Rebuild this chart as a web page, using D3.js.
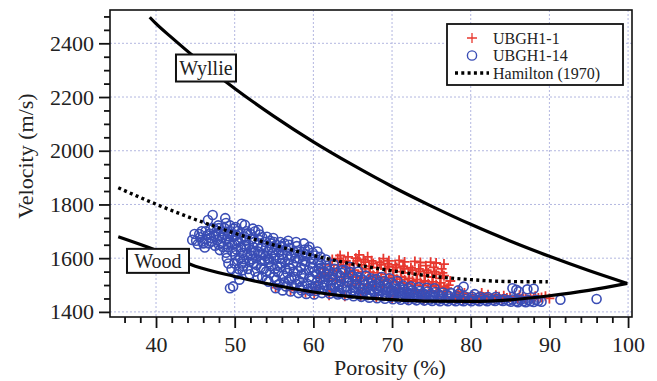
<!DOCTYPE html>
<html>
<head>
<meta charset="utf-8">
<script src="https://cdn.jsdelivr.net/npm/d3@7"></script>
<style>
  body { margin: 0; background: #fff; }
  svg { display: block; }
  svg text { font-family: "Liberation Serif", Tinos, "Times New Roman", Times, "Nimbus Roman", "DejaVu Serif", serif; }
</style>
</head>
<body>
<div id="chart"></div>
<script>
// axis ticks
const xMajor = [40, 50, 60, 70, 80, 90, 100];
const yMajor = [1400, 1600, 1800, 2000, 2200, 2400];

// model curves, [porosity %, velocity m/s]
const wyllie = [[39.2, 2497], [40, 2473], [42, 2421], [45, 2346], [50, 2232], [55, 2128], [60, 2033],
  [65, 1947], [70, 1867], [75, 1794], [80, 1726], [85, 1664], [90, 1607], [95, 1554], [99.9, 1506]];
const wood = [[35.2, 1680], [40, 1630], [45, 1570], [50, 1532], [55, 1500], [60, 1474], [65, 1456],
  [70, 1446], [75, 1440], [80, 1439], [85, 1445], [90, 1460], [95, 1480], [99.9, 1506]];
const hamilton = [[35.2, 1862], [40, 1801], [45, 1744], [50, 1693], [55, 1649], [60, 1610], [65, 1578],
  [70, 1553], [75, 1533], [80, 1520], [85, 1513], [89.8, 1512]];

// UBGH1-1 (red crosses)
const ubgh1_1 = [
  [60.8,1530],[61.2,1560],[61.9,1540],[62.2,1575],[62.4,1595],[62.8,1520],[63.0,1550],[63.2,1575],[63.1,1598],[63.4,1610],
  [63.8,1510],[64.0,1540],[64.2,1565],[64.1,1590],[64.4,1605],[64.8,1500],[65.0,1530],[65.2,1555],[65.1,1580],[65.4,1600],
  [65.8,1505],[66.0,1528],[66.2,1550],[66.1,1575],[66.4,1595],[66.8,1500],[67.0,1525],[67.2,1548],[67.1,1570],[67.4,1590],
  [67.8,1495],[68.0,1520],[68.2,1545],[68.1,1565],[68.4,1585],[68.8,1492],[69.0,1515],[69.2,1540],[69.1,1560],[69.4,1580],
  [69.8,1490],[70.0,1512],[70.2,1535],[70.1,1555],[70.4,1575],[70.8,1488],[71.0,1510],[71.2,1530],[71.1,1550],[71.4,1570],
  [71.8,1485],[72.0,1505],[72.2,1525],[72.1,1545],[72.4,1565],[72.8,1482],[73.0,1500],[73.2,1520],[73.1,1540],[73.4,1560],
  [73.8,1480],[74.0,1498],[74.2,1515],[74.1,1535],[74.4,1555],[74.3,1572],[74.8,1478],[75.0,1495],[75.2,1512],[75.1,1530],
  [75.4,1550],[75.3,1566],[75.8,1476],[76.0,1490],[76.2,1508],[76.1,1525],[76.4,1545],[76.3,1560],[76.8,1475],[77.0,1488],
  [77.2,1500],[75.6,1582],[76.6,1578],[74.9,1585],[69.6,1590],[71.6,1586],[73.6,1584],
  [62.6,1555],[63.5,1588],[63.6,1530],[64.6,1575],[64.7,1548],[65.6,1590],[65.6,1518],[66.6,1585],[66.6,1560],[67.6,1580],
  [67.6,1536],[68.6,1575],[68.6,1530],[69.6,1568],[69.6,1528],[70.6,1565],[70.6,1522],[71.6,1560],[71.6,1520],[72.6,1555],
  [72.6,1515],[73.6,1550],[73.6,1510],[74.6,1545],[74.6,1505],[75.6,1540],[75.6,1500],[76.6,1535],[76.6,1495],[77.4,1515],
  [63.8,1585],[65.8,1612],[66.9,1605],[68.9,1598],[70.9,1592],[72.9,1588],[62.0,1525],[61.5,1545],
  [55.2,1490],[57.1,1480],[59.0,1472],[60.1,1468],[60.3,1490],[62.0,1462],[62.2,1480],[64.0,1458],[66.0,1455],[66.2,1470],
  [68.0,1452],[70.0,1448],[70.2,1462],[72.0,1445],[74.0,1444],[74.2,1456],[78.0,1450],[78.2,1462],[78.4,1476],[79.0,1448],
  [79.2,1470],[80.0,1446],[80.2,1460],[81.0,1445],[81.2,1458],[81.4,1470],[82.0,1452],[82.2,1464],[83.0,1450],[83.2,1462],
  [84.0,1448],[84.2,1460],[85.0,1455],[86.0,1450],[86.2,1462],[87.0,1452],[88.0,1448],[88.2,1458],[89.0,1454],[90.0,1450],
  [76.5,1456],[77.5,1452],[78.6,1455],[79.6,1452],[80.6,1450],[81.6,1455],[82.6,1450],[83.6,1456],[84.6,1452],[85.6,1458],
  [86.6,1455],[87.6,1458],[88.6,1452],[89.5,1458]
];

// UBGH1-14 (blue circles)
const ubgh1_14 = [
  [44.6,1668],[44.9,1690],[45.3,1652],[45.6,1678],[45.8,1700],[46.2,1640],[46.4,1671],[46.6,1742],[46.8,1692],[46.9,1707],
  [47.2,1761],[47.1,1662],[47.4,1684],[47.5,1646],[47.7,1701],[47.9,1722],[48.1,1630],[48.3,1655],[48.4,1676],[48.6,1691],
  [48.7,1712],[48.9,1731],[48.8,1749],[49.0,1601],[49.2,1641],[49.3,1660],[49.1,1682],[49.5,1700],[49.4,1722],[49.4,1488],
  [49.6,1560],[49.8,1495],[50.0,1580],[50.1,1611],[50.2,1632],[50.0,1651],[50.3,1668],[50.2,1686],[50.4,1701],[50.1,1716],
  [50.3,1540],[50.6,1520],[50.7,1600],[50.8,1641],[50.6,1690],[50.9,1728],[51.1,1571],[51.2,1596],[51.0,1620],[51.3,1645],
  [51.4,1665],[51.2,1681],[51.5,1700],[51.3,1724],[51.7,1560],[51.9,1586],[52.0,1611],[52.1,1630],[51.8,1650],[52.2,1671],
  [52.0,1690],[52.3,1710],[52.6,1550],[52.8,1575],[52.7,1600],[53.0,1625],[52.9,1648],[53.1,1668],[53.2,1688],[53.0,1705],
  [53.5,1530],[53.7,1560],[53.8,1590],[53.6,1615],[54.0,1640],[53.9,1660],[54.1,1680],[54.3,1512],[54.5,1545],[54.6,1570],
  [54.4,1595],[54.8,1620],[54.7,1640],[55.0,1660],[54.9,1675],[55.2,1488],[55.3,1520],[55.5,1548],[55.4,1572],[55.7,1598],
  [55.6,1622],[55.9,1642],[55.8,1660],[56.1,1480],[56.3,1510],[56.2,1535],[56.5,1560],[56.4,1585],[56.7,1610],[56.6,1630],
  [56.9,1650],[56.8,1665],[57.1,1476],[57.3,1500],[57.2,1525],[57.5,1550],[57.4,1575],[57.7,1600],[57.6,1622],[57.9,1645],
  [57.8,1660],[58.1,1470],[58.3,1490],[58.2,1515],[58.5,1540],[58.4,1565],[58.7,1590],[58.6,1612],[58.9,1632],[58.8,1655],
  [59.1,1467],[59.3,1485],[59.2,1505],[59.5,1530],[59.4,1555],[59.7,1580],[59.6,1600],[59.9,1620],[59.5,1642],[60.1,1465],
  [60.3,1478],[60.2,1495],[60.5,1515],[60.4,1540],[60.7,1560],[60.6,1585],[60.9,1605],[60.5,1625],[61.1,1470],[61.3,1490],
  [61.2,1510],[61.5,1530],[61.4,1550],[61.7,1572],[61.6,1595],[62.1,1468],[62.3,1485],[62.2,1500],[62.5,1520],[62.4,1540],
  [62.7,1560],[62.6,1578],[63.1,1465],[63.3,1480],[63.2,1495],[63.5,1515],[63.4,1535],[63.7,1556],[64.1,1462],[64.3,1478],
  [64.2,1492],[64.5,1510],[64.4,1528],[64.7,1548],[64.6,1568],[65.1,1458],[65.3,1475],[65.2,1490],[65.5,1505],[65.4,1522],
  [65.7,1550],[66.1,1456],[66.3,1472],[66.2,1486],[66.5,1500],[66.4,1518],[66.7,1535],[67.1,1453],[67.3,1468],[67.2,1482],
  [67.5,1498],[67.4,1515],[68.1,1451],[68.3,1465],[68.2,1478],[68.5,1494],[68.4,1510],[68.7,1530],[69.1,1449],[69.3,1462],
  [69.2,1475],[69.5,1490],[69.4,1505],[69.7,1525],[70.1,1447],[70.3,1460],[70.2,1472],[70.5,1486],[70.4,1500],[70.7,1515],
  [71.1,1445],[71.3,1458],[71.2,1470],[71.5,1484],[71.4,1498],[72.1,1444],[72.3,1456],[72.2,1468],[72.5,1480],[72.4,1495],
  [73.1,1443],[73.3,1455],[73.2,1466],[73.5,1478],[73.4,1492],[74.1,1442],[74.3,1453],[74.2,1464],[74.5,1476],[74.4,1490],
  [75.1,1441],[75.3,1452],[75.2,1462],[75.5,1474],[75.4,1488],[76.1,1440],[76.3,1450],[76.2,1460],[76.5,1472],[77.1,1440],
  [77.3,1450],[77.2,1460],[77.5,1470],[78.1,1440],[78.3,1449],[78.2,1458],[78.5,1468],[78.4,1480],[79.1,1440],[79.3,1448],
  [79.2,1458],[79.1,1494],[80.1,1440],[80.3,1448],[80.2,1456],[80.5,1466],[81.1,1440],[81.3,1448],[81.2,1456],[82.1,1440],
  [82.3,1447],[82.2,1455],[83.1,1441],[83.3,1448],[83.2,1456],[84.1,1441],[84.3,1448],[85.1,1438],[85.3,1446],[85.3,1488],
  [86.0,1436],[86.3,1444],[86.1,1476],[87.0,1436],[87.3,1444],[88.0,1437],[88.3,1445],[88.0,1486],[89.0,1438],[91.4,1445],
  [96.0,1448],
  [45.1,1665],[45.5,1690],[46.0,1655],[46.5,1685],[47.0,1675],[47.3,1712],[47.8,1668],[48.2,1700],[48.5,1642],[49.0,1670],
  [49.3,1690],[49.7,1650],[49.9,1710],[50.4,1592],[50.5,1660],[50.8,1676],[51.0,1555],[51.6,1612],[51.6,1690],[52.4,1580],
  [52.4,1640],[52.5,1660],[52.6,1700],[53.3,1565],[53.3,1612],[53.4,1640],[53.5,1678],[54.0,1550],[54.2,1600],[54.2,1625],
  [54.5,1665],[55.0,1530],[55.1,1560],[55.1,1610],[55.3,1650],[55.7,1505],[55.9,1580],[56.0,1615],[56.0,1645],[56.5,1495],
  [56.7,1545],[56.9,1595],[57.0,1638],[57.5,1488],[57.6,1530],[57.9,1585],[58.0,1625],[58.5,1480],[58.7,1525],[58.9,1575],
  [59.0,1615],[59.6,1478],[59.8,1518],[59.9,1565],[60.0,1595],[60.8,1485],[60.9,1525],[61.0,1548],[61.0,1580],[61.8,1478],
  [61.9,1518],[62.0,1552],[62.9,1472],[62.9,1505],[63.0,1545],[63.6,1488],[63.9,1525],[64.0,1555],[64.8,1468],[64.9,1500],
  [65.0,1535],[65.8,1465],[65.9,1492],[66.0,1528],[66.8,1462],[66.9,1490],[67.0,1508],[67.7,1474],[67.8,1500],[68.0,1522],
  [68.8,1458],[68.9,1485],[69.0,1515],[69.8,1455],[69.9,1480],[70.0,1508],[70.8,1452],[70.9,1478],[71.0,1492],[71.8,1450],
  [71.9,1475],[72.0,1488],[72.8,1449],[72.9,1472],[73.8,1448],[73.9,1470],[74.8,1446],[74.9,1468],[75.8,1445],[75.9,1466],
  [76.8,1444],[76.9,1465],[77.8,1444],[78.8,1443],[79.8,1444],[80.8,1444],[81.8,1444],[82.8,1444],[83.8,1444],[84.8,1442],
  [85.8,1440],[86.7,1440],[87.6,1440],[88.6,1441],[85.8,1482],[87.2,1484],
  [45.9,1662],[46.3,1700],[46.7,1655],[47.6,1690],[48.0,1712],[48.0,1650],[48.9,1620],[49.2,1580],[49.7,1625],[49.8,1680],
  [50.5,1560],[50.9,1580],[51.5,1635],[51.9,1540],[52.2,1596],[52.5,1620],[52.9,1530],[53.4,1590],[53.9,1608],[54.1,1520],
  [54.3,1585],[54.6,1655],[55.0,1598],[55.4,1632],[55.5,1500],[55.8,1568],[56.1,1598],[56.3,1655],[56.9,1520],[57.0,1562],
  [57.2,1612],[57.8,1505],[58.0,1552],[58.2,1600],[58.6,1498],[58.8,1540],[59.0,1588],[59.3,1632],[59.9,1492],[60.1,1550],
  [60.2,1610],[60.6,1500],[61.0,1565],[61.4,1500],[61.7,1540],[62.3,1530],[62.7,1490],[63.4,1470],[63.6,1545],[64.3,1515],
  [65.0,1480],[65.6,1530],[66.5,1478],[67.3,1525],[68.0,1488],[69.1,1498],[70.0,1465],[71.6,1465],[72.7,1460],[73.7,1458]
];

const width = 657, height = 381;
const plot = { left: 110, right: 632, top: 10, bottom: 317 };
const red = '#e8382f', blue = '#3a4db5';
const serif = '"Liberation Serif", Tinos, "Times New Roman", Times, "Nimbus Roman", "DejaVu Serif", serif';

const svg = d3.select('#chart').append('svg')
  .attr('width', width)
  .attr('height', height)
  .attr('font-family', serif);

const x = d3.scaleLinear().domain([34.15, 100.5]).range([plot.left, plot.right]);
const y = d3.scaleLinear().domain([1381, 2524]).range([plot.bottom, plot.top]);

// dotted grid
const grid = svg.append('g')
  .attr('stroke', '#b3b7e0')
  .attr('stroke-width', 1)
  .attr('stroke-dasharray', '2,2');
grid.selectAll('.gx').data(xMajor).enter().append('line')
  .attr('x1', d => x(d)).attr('x2', d => x(d))
  .attr('y1', plot.top).attr('y2', plot.bottom);
grid.selectAll('.gy').data(yMajor).enter().append('line')
  .attr('x1', plot.left).attr('x2', plot.right)
  .attr('y1', d => y(d)).attr('y2', d => y(d));

// scatter: red first, blue over it
svg.append('g').selectAll('path')
  .data(ubgh1_1)
  .enter().append('path')
  .attr('d', d => `M${x(d[0]) - 5},${y(d[1])}h10M${x(d[0])},${y(d[1]) - 5}v10`)
  .attr('stroke', red)
  .attr('stroke-width', 1.8)
  .attr('fill', 'none');

svg.append('g').selectAll('circle')
  .data(ubgh1_14)
  .enter().append('circle')
  .attr('cx', d => x(d[0]))
  .attr('cy', d => y(d[1]))
  .attr('r', 4.5)
  .attr('fill', 'none')
  .attr('stroke', blue)
  .attr('stroke-width', 1.6);

// model curves
const line = d3.line()
  .x(d => x(d[0]))
  .y(d => y(d[1]))
  .curve(d3.curveMonotoneX);

svg.append('path').datum(wyllie).attr('d', line)
  .attr('fill', 'none').attr('stroke', '#000').attr('stroke-width', 3.2);
svg.append('path').datum(wood).attr('d', line)
  .attr('fill', 'none').attr('stroke', '#000').attr('stroke-width', 3.2);
svg.append('path').datum(hamilton).attr('d', line)
  .attr('fill', 'none').attr('stroke', '#000').attr('stroke-width', 3.4)
  .attr('stroke-dasharray', '3,3.3');

// curve labels in boxes
function boxLabel(text, px, vy, w, h, size) {
  const cx = x(px), cy = y(vy);
  svg.append('rect')
    .attr('x', cx - w / 2).attr('y', cy - h / 2)
    .attr('width', w).attr('height', h)
    .attr('fill', '#fff').attr('stroke', '#111').attr('stroke-width', 2);
  svg.append('text')
    .attr('x', cx).attr('y', cy)
    .attr('dy', '0.35em')
    .attr('text-anchor', 'middle')
    .style('font-size', size + 'px')
    .style('fill', '#222')
    .text(text);
}
boxLabel('Wyllie', 46.35, 2308, 60, 27, 20);
boxLabel('Wood', 40.25, 1590, 62, 24, 20);

// frame
svg.append('rect')
  .attr('x', plot.left).attr('y', plot.top)
  .attr('width', plot.right - plot.left).attr('height', plot.bottom - plot.top)
  .attr('fill', 'none').attr('stroke', '#111').attr('stroke-width', 1.6);

// axes
const fmt = d3.format('d');
const xAxis = svg.append('g')
  .attr('transform', `translate(0,${plot.bottom})`)
  .call(d3.axisBottom(x).tickValues(xMajor).tickFormat(fmt).tickSize(11).tickPadding(8).tickSizeOuter(0));
const xMinor = svg.append('g')
  .attr('transform', `translate(0,${plot.bottom})`)
  .call(d3.axisBottom(x).tickValues(d3.range(36, 101, 2).filter(v => v % 10)).tickSize(6).tickFormat(''));

const yAxis = svg.append('g')
  .attr('transform', `translate(${plot.left},0)`)
  .call(d3.axisLeft(y).tickValues(yMajor).tickFormat(fmt).tickSize(11).tickPadding(5).tickSizeOuter(0));
const yMinor = svg.append('g')
  .attr('transform', `translate(${plot.left},0)`)
  .call(d3.axisLeft(y).tickValues(d3.range(1450, 2501, 50).filter(v => v % 200)).tickSize(6).tickFormat(''));

[xAxis, xMinor, yAxis, yMinor].forEach(g => {
  g.attr('font-family', serif);
  g.select('.domain').remove();
  g.selectAll('line').attr('stroke', '#111').attr('stroke-width', 1.8);
  g.selectAll('text')
    .style('font-size', '22px')
    .style('fill', '#222');
});

// axis titles
svg.append('text')
  .attr('x', 390).attr('y', 375)
  .attr('text-anchor', 'middle')
  .style('font-size', '22px').style('fill', '#222')
  .text('Porosity (%)');
svg.append('text')
  .attr('transform', 'translate(33,156) rotate(-90)')
  .attr('text-anchor', 'middle')
  .style('font-size', '22px').style('fill', '#222')
  .text('Velocity (m/s)');

// legend
const legend = svg.append('g');
legend.append('rect')
  .attr('x', 447).attr('y', 24).attr('width', 176).attr('height', 61)
  .attr('fill', '#fff').attr('stroke', '#111').attr('stroke-width', 1.8);
const lx = 472, rows = [38, 55.5, 73];
legend.append('path')
  .attr('d', `M${lx - 5},${rows[0]}h10M${lx},${rows[0] - 5}v10`)
  .attr('stroke', red).attr('stroke-width', 1.3);
legend.append('circle')
  .attr('cx', lx).attr('cy', rows[1]).attr('r', 4.6)
  .attr('fill', 'none').attr('stroke', blue).attr('stroke-width', 1.4);
legend.append('line')
  .attr('x1', 455).attr('x2', 489).attr('y1', rows[2]).attr('y2', rows[2])
  .attr('stroke', '#000').attr('stroke-width', 3.4).attr('stroke-dasharray', '3,3.3');
legend.selectAll('.lt')
  .data(['UBGH1-1', 'UBGH1-14', 'Hamilton (1970)'])
  .enter().append('text')
  .attr('x', 493)
  .attr('y', (d, i) => rows[i])
  .attr('dy', '0.35em')
  .style('font-size', '16px').style('fill', '#222')
  .text(d => d);
</script>
</body>
</html>
